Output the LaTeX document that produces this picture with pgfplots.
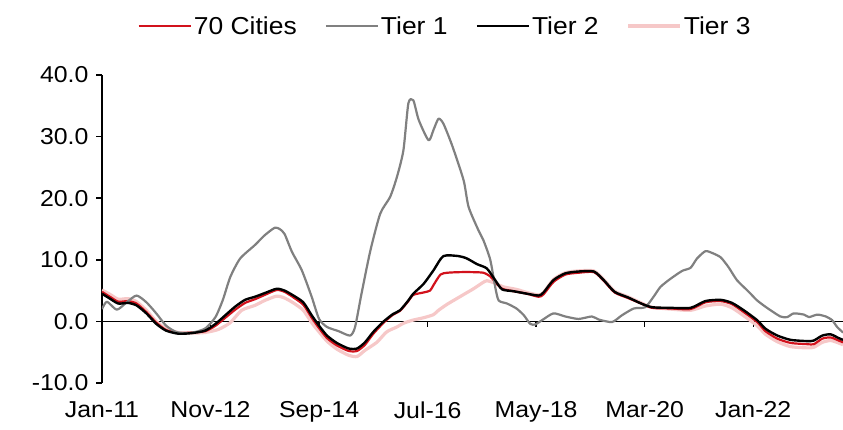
\documentclass[border=0pt]{standalone}
\usepackage{fontspec}
\setmainfont{Liberation Sans}[FakeStretch=1.08]
\usepackage{pgfplots}
\usepackage{pgfplotstable}
\pgfplotsset{compat=1.18}
\definecolor{cred}{RGB}{210,18,28}
\definecolor{cgray}{RGB}{128,128,128}
\definecolor{cpink}{RGB}{246,200,200}

\pgfplotstableread{
m v
0 2.0
1 3.2
3 1.9
5 3.1
7 4.2
9 3.1
11 1.3
13 -0.7
15 -1.7
17 -1.9
19 -1.7
21 -1.1
23 0.7
24.5 3.5
26 7.2
28 10.2
31 12.4
33 14.0
35 15.2
36 15.0
37 14.2
38.5 11.3
40.5 8.3
42.5 4.0
44 0.4
45.6 -0.9
48 -1.6
50.3 -2.3
51.3 -0.9
52.6 4.5
54.4 11.5
56.4 17.5
58.4 20.2
59.8 23.5
61.1 27.8
62.1 35.4
63.1 35.9
64.2 32.7
66.2 29.4
67.2 31.1
68.2 32.9
69.2 32.1
71 28.5
73.3 22.9
74.3 18.6
76.3 14.8
77.3 13.2
78.7 10.0
79.7 5.6
80.4 3.4
82.1 2.9
84 2.1
85.5 1.0
86.8 -0.4
87.8 -0.5
89.2 0.2
91.5 1.3
93.9 0.8
96.6 0.4
99.3 0.8
100.7 0.3
103.4 -0.1
105.4 1.0
107.8 2.1
110.1 2.3
111.8 4.0
113.2 5.6
115.2 6.9
117.6 8.2
119.3 8.7
120.6 10.2
122.3 11.4
123.7 11.1
125.4 10.4
127 8.8
128.7 6.7
131.1 4.8
132.8 3.4
134.8 2.2
137.5 0.8
138.9 0.7
140.2 1.3
142.3 1.1
143.3 0.7
145 1.1
146.7 0.8
148 0.2
149 -0.9
150.2 -1.8
}\tierone

\pgfplotstableread{
m v
0 4.5
1.6 3.7
3.3 2.9
5.3 3.0
7 2.6
9 1.3
11 -0.4
13 -1.5
15.5 -2.0
18.2 -1.9
20.9 -1.5
23 -0.4
25 1.0
27 2.4
29 3.5
31 4.0
33 4.6
35.4 5.3
37 5.0
38.8 4.2
40.8 3.1
42.5 1.0
44 -0.7
45.6 -2.3
47.6 -3.5
50 -4.4
51.7 -4.4
53.3 -3.4
55 -1.7
57.1 0.0
59 1.2
60.4 1.8
62 3.3
63.1 4.5
65.2 6.1
67.2 8.3
69.2 10.6
72.3 10.6
74 10.2
76 9.3
78 8.6
79.7 6.7
81.1 5.2
83.4 4.9
86.1 4.5
88.5 4.2
89.5 4.7
91.5 6.7
93.9 7.8
96.6 8.1
99.7 8.1
101.7 6.7
103.9 4.8
106.6 3.9
109.3 2.9
111.5 2.3
115.2 2.2
119.3 2.2
122.3 3.3
125.4 3.5
127.7 3.0
130.1 1.8
132.8 0.2
134.5 -1.2
136.9 -2.3
139.6 -3.0
143 -3.2
144.3 -3.1
146 -2.3
147.7 -2.1
149.3 -2.7
150.2 -3.0
}\tiertwo

\pgfplotstableread{
m v
0 4.8
1.6 4.0
3.3 3.2
5.3 3.3
7 2.9
9 1.5
11 -0.2
13 -1.4
15.5 -1.9
18.2 -1.8
20.9 -1.6
23 -0.7
25 0.6
27 1.9
29 3.0
31 3.6
33 4.3
35.4 5.1
37 4.8
38.8 3.9
40.8 2.7
42.5 0.6
44 -1.1
45.6 -2.7
47.6 -3.9
50 -4.8
51.7 -4.8
53.3 -3.8
55 -2.0
57.1 -0.2
59 1.1
60.4 1.7
62 3.2
63.1 4.3
65.2 4.7
66.5 5.0
67.2 5.9
68.6 7.6
70 7.9
72.6 8.0
75 8.0
77.3 7.9
78.7 7.3
79.7 6.4
81.1 5.3
83.4 4.9
86.1 4.5
88.5 4.0
89.5 4.4
91.5 6.4
93.9 7.6
96.6 7.9
99.7 8.0
101.7 6.6
103.9 4.7
106.6 3.8
109.3 2.9
111.5 2.2
115.2 2.1
119.3 2.0
122.3 3.1
125.4 3.3
127.7 2.8
130.1 1.5
132.8 -0.1
134.5 -1.6
136.9 -2.8
139.6 -3.5
143 -3.7
144.3 -3.7
146 -2.8
147.7 -2.6
149.3 -3.1
150.2 -3.4
}\cities

\pgfplotstableread{
m v
0 5.1
1.6 4.4
3.3 3.6
5.3 3.7
7 3.2
9 1.8
11 0.0
13 -1.2
15.5 -1.8
18.2 -1.9
20.9 -1.8
23.6 -1.3
26 -0.2
28.3 1.8
31 2.6
33 3.4
35.4 4.1
37 3.8
38.8 3.0
40.8 1.8
42.5 -0.2
44 -1.7
45.6 -3.2
47.6 -4.5
50 -5.5
51.7 -5.7
53.3 -4.7
55.7 -3.4
57.7 -1.7
59.8 -0.9
61.1 -0.3
63 0.2
65.2 0.6
67.2 1.1
68.2 1.8
70 2.8
71.9 3.7
73.6 4.5
75.3 5.3
77 6.2
78 6.6
79.7 6.2
81.4 5.6
84 5.2
86.1 4.7
88.5 4.3
89.5 4.7
91.5 6.8
93.9 7.9
96.6 8.2
99.7 8.2
101.7 6.8
103.9 4.9
106.6 4.0
109.3 3.0
111.5 2.3
115.2 2.0
119.3 1.8
122.3 2.5
125.4 2.8
127.7 2.2
130.1 0.9
132.8 -0.7
134.5 -2.1
136.9 -3.3
139.6 -4.1
143 -4.3
144.3 -4.2
146 -3.4
147.7 -3.1
149.3 -3.5
150.2 -3.8
}\tierthree

\begin{document}
\begin{tikzpicture}
\path[use as bounding box] (-102pt,-46pt) rectangle (741pt,383pt);
\begin{axis}[
  at={(0pt,0pt)}, anchor=south west,
  scale only axis, width=741pt, height=308pt,
  xmin=0, xmax=150.2, ymin=-10, ymax=40,
  axis y line*=left, axis x line*=bottom,
  x axis line style={draw=none},
  y axis line style={line width=1.6pt, -},
  xtick={0,22,44,66,88,110,132},
  xticklabels={Jan-11,Nov-12,Sep-14,Jul-16,May-18,Mar-20,Jan-22},
  x tick style={draw=none},
  xticklabel style={yshift=-9pt},
  ytick={-10,0,10,20,30,40},
  y tick style={line width=1.6pt, black},
  tick align=outside,
  major tick length=6pt,
  tick label style={font=\fontsize{23}{27}\selectfont},
  yticklabel style={xshift=-4pt, /pgf/number format/.cd, fixed, fixed zerofill, precision=1, assume math mode=true},
  /pgf/number format/assume math mode=true,
  legend style={at={(0.463,1)}, anchor=center, yshift=49pt, draw=none, fill=none,
    font=\fontsize{24.5}{28}\selectfont, legend columns=-1,
    /tikz/every even column/.append style={column sep=26pt}},
  legend image code/.code={\draw[#1] (0pt,0pt) -- (52pt,0pt);},
  every axis plot/.append style={line join=round, smooth, tension=0.4},
]
\draw[black, line width=1.3pt] (axis cs:0,0) -- (axis cs:150.2,0);
\pgfplotsinvokeforeach{22,44,66,88,110,132}{\draw[black, line width=1.3pt] (axis cs:#1,0) -- ++(0pt,-6pt);}
\addplot[cpink, line width=3.2pt, forget plot] table[x=m,y=v] {\tierthree};
\addplot[cred, line width=2.2pt] table[x=m,y=v] {\cities};
\addlegendentry{70 Cities}
\addplot[cgray, line width=2.2pt] table[x=m,y=v] {\tierone};
\addlegendentry{Tier 1}
\addplot[black, line width=2.4pt] table[x=m,y=v] {\tiertwo};
\addlegendentry{Tier 2}
\addlegendimage{cpink, line width=3.2pt}
\addlegendentry{Tier 3}
\end{axis}
\end{tikzpicture}
\end{document}
